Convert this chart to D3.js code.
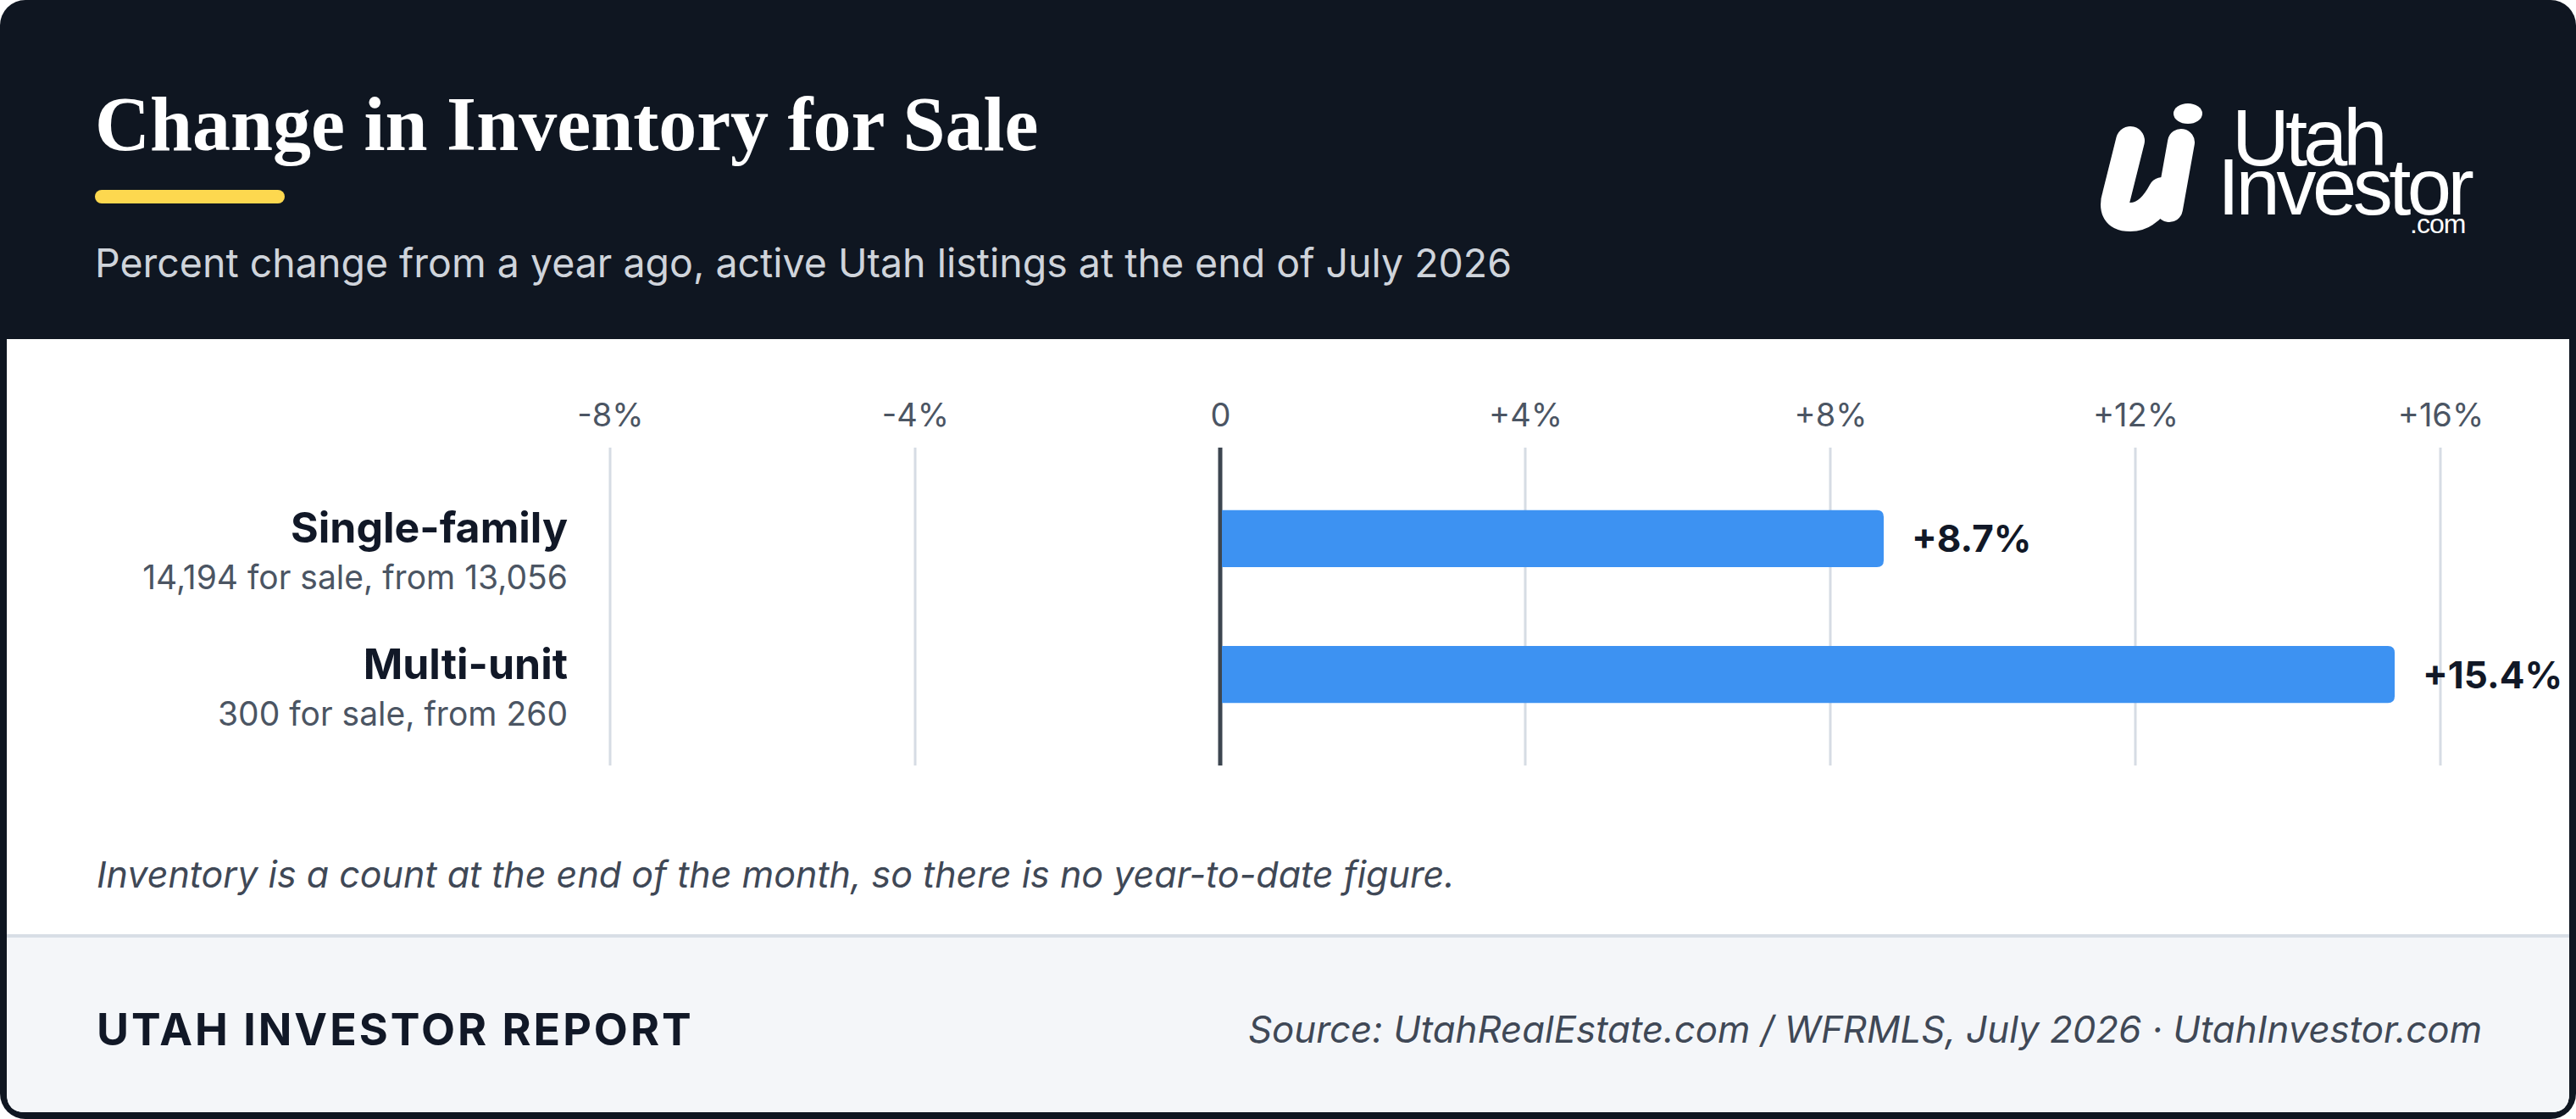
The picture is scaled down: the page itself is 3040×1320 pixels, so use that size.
<!DOCTYPE html>
<html>
<head>
<meta charset="utf-8">
<script src="https://cdn.jsdelivr.net/npm/d3@7"></script>
<style>
  body { margin: 0; background: #ffffff; }
  svg { display: block; }
</style>
</head>
<body>
<div id="chart"></div>
<script>
// chart data
const categories = ["Single-family", "Multi-unit"]
const details = ["14,194 for sale, from 13,056", "300 for sale, from 260"]
const pctChange = [8.7, 15.4]
const tickValues = [-8, -4, 0, 4, 8, 12, 16]
const tickLabels = ["-8%", "-4%", "0", "+4%", "+8%", "+12%", "+16%"]

const W = 3040, H = 1320
const sans = "Inter, 'Noto Sans', sans-serif"
const dark = "#0f1621"

const svg = d3.select("#chart").append("svg")
  .attr("width", W)
  .attr("height", H)

// card frame + header
svg.append("rect").attr("x", 0).attr("y", 0).attr("width", W).attr("height", H)
  .attr("rx", 30).attr("fill", dark)

// white body with rounded bottom corners
const bx = 8, by = 400, bw = W - 16, bh = H - 8 - 400, br = 22
function bottomRounded(x, y, w, h, r) {
  return `M${x},${y} H${x + w} V${y + h - r} Q${x + w},${y + h} ${x + w - r},${y + h} H${x + r} Q${x},${y + h} ${x},${y + h - r} Z`
}
svg.append("path").attr("d", bottomRounded(bx, by, bw, bh, br)).attr("fill", "#ffffff")
// footer band
svg.append("path").attr("d", bottomRounded(bx, 1106, bw, H - 8 - 1106, br)).attr("fill", "#f4f6f9")
svg.append("rect").attr("x", bx).attr("y", 1102).attr("width", bw).attr("height", 4).attr("fill", "#d8dee6")

// title block
svg.append("text")
  .attr("x", 112).attr("y", 177)
  .attr("font-family", "'Liberation Serif', 'DejaVu Serif', serif")
  .attr("font-weight", 700)
  .attr("font-size", 90)
  .attr("fill", "#ffffff")
  .text("Change in Inventory for Sale")

svg.append("rect").attr("x", 112).attr("y", 224).attr("width", 224).attr("height", 16)
  .attr("rx", 8).attr("fill", "#fdd84f")

svg.append("text")
  .attr("x", 112).attr("y", 327)
  .attr("font-family", sans)
  .attr("font-size", 46.5)
  .attr("fill", "#cfd4db")
  .text("Percent change from a year ago, active Utah listings at the end of July 2026")

// logo
const logo = svg.append("g").attr("fill", "#ffffff")
logo.append("path")
  .attr("d", "M2514,166 L2498,230 Q2490,256 2514,256 Q2536,256 2552,226")
  .attr("fill", "none").attr("stroke", "#ffffff").attr("stroke-width", 34).attr("stroke-linecap", "round")
logo.append("path")
  .attr("d", "M2574,168 L2560,246")
  .attr("fill", "none").attr("stroke", "#ffffff").attr("stroke-width", 32).attr("stroke-linecap", "round")
logo.append("ellipse").attr("cx", 2582).attr("cy", 134).attr("rx", 17).attr("ry", 12)
logo.append("text").attr("x", 2634).attr("y", 195)
  .attr("font-family", "'Liberation Sans', Arial, sans-serif").attr("font-size", 94)
  .attr("letter-spacing", -5).text("Utah")
logo.append("text").attr("x", 2617).attr("y", 253)
  .attr("font-family", "'Liberation Sans', Arial, sans-serif").attr("font-size", 94)
  .attr("letter-spacing", -4.5).text("Investor")
logo.append("text").attr("x", 2844).attr("y", 275)
  .attr("font-family", "'Liberation Sans', Arial, sans-serif").attr("font-size", 32)
  .attr("letter-spacing", -1).text(".com")

// scales
const plotTop = 528, plotBottom = 903
const x = d3.scaleLinear().domain([-8, 16]).range([720, 2880])
const y = d3.scaleBand().domain(categories).range([plotTop, plotBottom])
  .paddingInner(0.58).paddingOuter(0.46)

// gridlines
svg.append("g")
  .selectAll("line")
  .data(tickValues)
  .join("line")
  .attr("x1", d => x(d)).attr("x2", d => x(d))
  .attr("y1", plotTop).attr("y2", plotBottom)
  .attr("stroke", d => d === 0 ? "#3d4650" : "#d6dce4")
  .attr("stroke-width", d => d === 0 ? 5 : 3)

// axis labels on top
const axis = svg.append("g")
  .attr("transform", `translate(0,${plotTop})`)
  .call(d3.axisTop(x).tickValues(tickValues).tickSize(0).tickPadding(25)
    .tickFormat((d, i) => tickLabels[i]))
axis.select(".domain").remove()
axis.selectAll("text")
  .attr("font-family", sans)
  .attr("font-size", 38)
  .attr("fill", "#4b5563")

// bars, rounded on the right end
function barPath(x0, x1, y0, h, r) {
  return `M${x0},${y0} H${x1 - r} Q${x1},${y0} ${x1},${y0 + r} V${y0 + h - r} Q${x1},${y0 + h} ${x1 - r},${y0 + h} H${x0} Z`
}
const rows = categories.map((c, i) => ({ cat: c, detail: details[i], v: pctChange[i] }))

svg.append("g")
  .selectAll("path")
  .data(rows)
  .join("path")
  .attr("d", d => barPath(x(0) + 2, x(d.v), y(d.cat), y.bandwidth(), 8))
  .attr("fill", "#3d92f2")

// value labels
svg.append("g")
  .selectAll("text")
  .data(rows)
  .join("text")
  .attr("x", d => x(d.v) + 33)
  .attr("y", d => y(d.cat) + y.bandwidth() / 2 + 16)
  .attr("font-family", sans)
  .attr("font-weight", 700)
  .attr("font-size", 44)
  .attr("fill", "#111827")
  .text(d => "+" + d.v.toFixed(1) + "%")

// category labels
const lab = svg.append("g").selectAll("g").data(rows).join("g")
lab.append("text")
  .attr("x", 670)
  .attr("y", d => y(d.cat) + y.bandwidth() / 2 + 5)
  .attr("text-anchor", "end")
  .attr("font-family", sans)
  .attr("font-weight", 700)
  .attr("font-size", 50)
  .attr("fill", "#111827")
  .text(d => d.cat)
lab.append("text")
  .attr("x", 670)
  .attr("y", d => y(d.cat) + y.bandwidth() / 2 + 60)
  .attr("text-anchor", "end")
  .attr("font-family", sans)
  .attr("font-size", 39)
  .attr("fill", "#4b5563")
  .text(d => d.detail)

// footnote
svg.append("text")
  .attr("x", 114).attr("y", 1047)
  .attr("font-family", sans)
  .attr("font-style", "italic")
  .attr("font-size", 43)
  .attr("fill", "#3f4856")
  .text("Inventory is a count at the end of the month, so there is no year-to-date figure.")

// footer
svg.append("text")
  .attr("x", 114).attr("y", 1233)
  .attr("font-family", sans)
  .attr("font-weight", 700)
  .attr("font-size", 52)
  .attr("letter-spacing", 3)
  .attr("fill", "#111827")
  .text("UTAH INVESTOR REPORT")

svg.append("text")
  .attr("x", 2929).attr("y", 1230)
  .attr("text-anchor", "end")
  .attr("font-family", sans)
  .attr("font-style", "italic")
  .attr("font-size", 43.8)
  .attr("fill", "#3f4856")
  .text("Source: UtahRealEstate.com / WFRMLS, July 2026 · UtahInvestor.com")
</script>
</body>
</html>
